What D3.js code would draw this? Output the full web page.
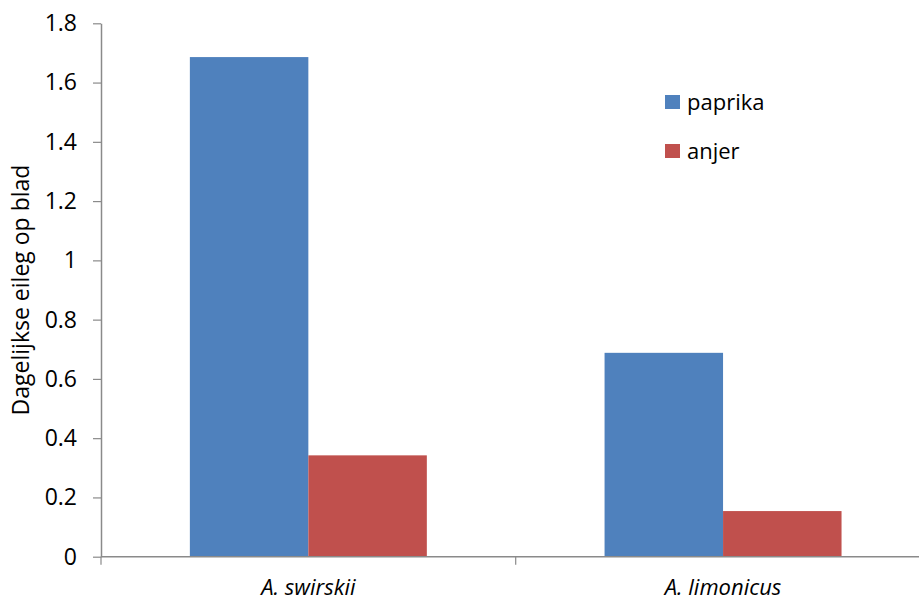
<!DOCTYPE html>
<html>
<head>
<meta charset="utf-8">
<script src="https://cdn.jsdelivr.net/npm/d3@7"></script>
<style>
  html, body { margin: 0; padding: 0; background: #fff; }
  svg { display: block; font-family: "Open Sans", sans-serif; }
</style>
</head>
<body>
<svg id="chart" width="919" height="602"></svg>
<script>
// Daily egg laying per leaf for two predatory mites on two host plants
const categories = ["A. swirskii", "A. limonicus"];
const seriesNames = ["paprika", "anjer"];
const paprika = [1.686, 0.688];
const anjer = [0.342, 0.154];
const seriesColors = ["#4F81BD", "#C0504D"];
const tickValues = [0, 0.2, 0.4, 0.6, 0.8, 1, 1.2, 1.4, 1.6, 1.8];
const tickLabels = ["0", "0.2", "0.4", "0.6", "0.8", "1", "1.2", "1.4", "1.6", "1.8"];
const yTitle = "Dagelijkse eileg op blad";

const svg = d3.select("#chart");
const axisColor = "#8a8a8a";
const fontFamily = "'Open Sans', sans-serif";

const plot = { left: 101, right: 930.4, top: 23.3, bottom: 556.7 };

const y = d3.scaleLinear().domain([0, 1.8]).range([plot.bottom, plot.top]);
const x0 = d3.scaleBand().domain(categories).range([plot.left, plot.right]).padding(0);
// gap width of 150% of a bar: each bar = band / 3.5, gap 0.75 bar on each side
const bw = x0.bandwidth();
const barW = bw / 3.5;
const x1 = d3.scaleBand().domain(seriesNames).range([0.75 * barW, bw - 0.75 * barW]).padding(0);

const values = { paprika, anjer };
const rows = [];
categories.forEach((c, i) => {
  seriesNames.forEach((s, j) => rows.push({ cat: c, series: s, value: values[s][i], color: seriesColors[j] }));
});

// bars
svg.append("g").selectAll("rect").data(rows).join("rect")
  .attr("x", d => x0(d.cat) + x1(d.series))
  .attr("y", d => y(d.value))
  .attr("width", x1.bandwidth())
  .attr("height", d => y(0) - y(d.value))
  .attr("fill", d => d.color);

// y axis
const yAxis = d3.axisLeft(y)
  .tickValues(tickValues)
  .tickFormat((d, i) => tickLabels[i])
  .tickSizeInner(8)
  .tickSizeOuter(0)
  .tickPadding(16);
const gy = svg.append("g").attr("transform", `translate(${plot.left},0)`).call(yAxis);
gy.select(".domain").attr("stroke", axisColor).attr("stroke-width", 1.5);
gy.selectAll(".tick line").attr("stroke", axisColor).attr("stroke-width", 1.2);
gy.selectAll(".tick text").attr("fill", "#000").style("font-size", "23px").style("font-family", fontFamily);

// x axis: category boundaries as ticks
const gx = svg.append("g").attr("transform", `translate(0,${plot.bottom})`);
gx.append("line")
  .attr("x1", plot.left).attr("x2", plot.right)
  .attr("stroke", axisColor).attr("stroke-width", 1.5);
const boundaries = [x0.range()[0]].concat(categories.map(c => x0(c) + bw));
gx.selectAll("line.sep").data(boundaries).join("line").attr("class", "sep")
  .attr("x1", d => d).attr("x2", d => d)
  .attr("y1", 0).attr("y2", 8)
  .attr("stroke", axisColor).attr("stroke-width", 1.2);
gx.selectAll("text").data(categories).join("text")
  .attr("x", d => x0(d) + bw / 2)
  .attr("y", 38)
  .attr("text-anchor", "middle")
  .style("font-size", "22px")
  .style("font-style", "italic")
  .text(d => d);

// y title
svg.append("text")
  .attr("transform", `translate(29,${(plot.top + plot.bottom) / 2}) rotate(-90)`)
  .attr("text-anchor", "middle")
  .style("font-size", "23px")
  .text(yTitle);

// legend
const legend = svg.append("g").attr("transform", "translate(665,95)");
const li = legend.selectAll("g").data(seriesNames).join("g")
  .attr("transform", (d, i) => `translate(0,${i * 49})`);
li.append("rect").attr("width", 15).attr("height", 14)
  .attr("fill", (d, i) => seriesColors[i]);
li.append("text").attr("x", 22).attr("y", 15)
  .style("font-size", "22px")
  .text(d => d);
</script>
</body>
</html>
